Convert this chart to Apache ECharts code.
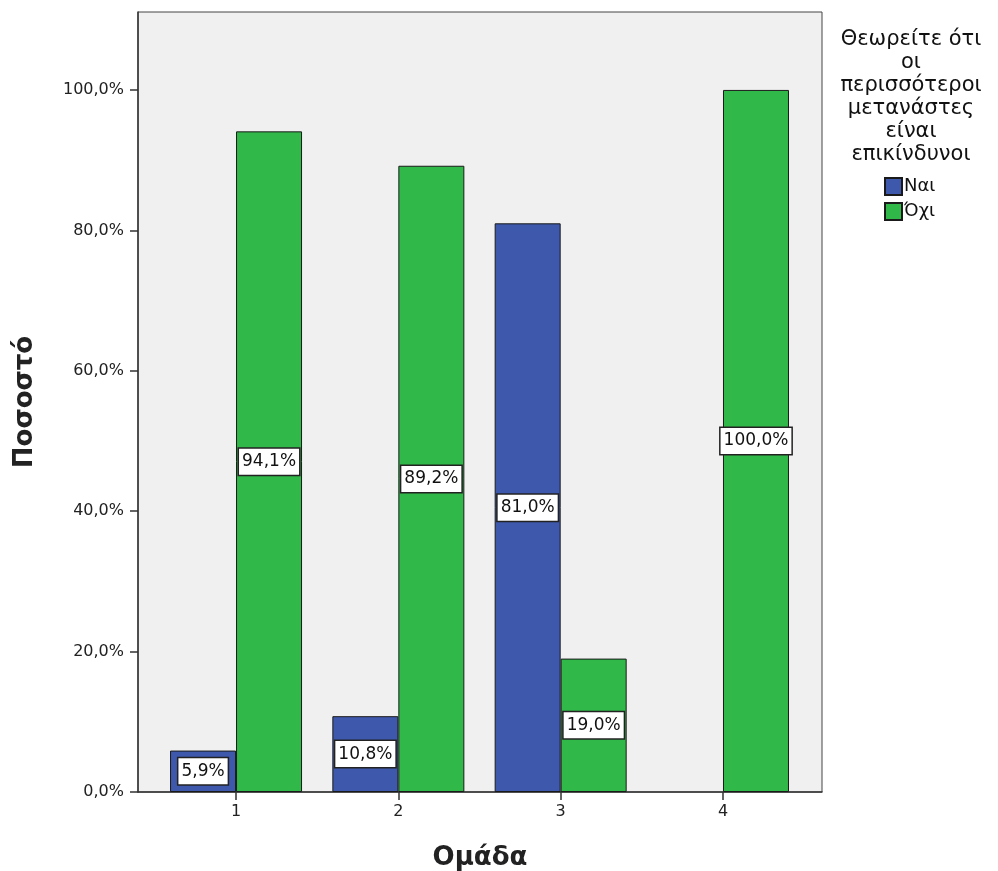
<!DOCTYPE html>
<html>
<head>
<meta charset="utf-8">
<style>
  html, body { margin: 0; padding: 0; background: #fff; }
  #chart { width: 998px; height: 871px; }
</style>
<script src="https://cdn.jsdelivr.net/npm/echarts@6/dist/echarts.min.js"></script>
</head>
<body>
<div id="chart"></div>
<script>
// ομάδες (θέσεις στον άξονα x)
const groups = [1, 2, 3, 4]
const yesValues = [5.9, 10.8, 81.0, null]
const noValues = [94.1, 89.2, 19.0, 100.0]
const yTicks = [0, 20, 40, 60, 80, 100]

const legendTitle = 'Θεωρείτε ότι\nοι\nπερισσότεροι\nμετανάστες\nείναι\nεπικίνδυνοι'

const fmt = v => v.toFixed(1).replace('.', ',') + '%'

const toPoints = vals => groups.map((g, i) => (vals[i] == null ? [g, '-'] : [g, vals[i]]))

const chart = echarts.init(document.getElementById('chart'))

const labelStyle = {
  show: true,
  position: 'inside',
  formatter: p => fmt(p.value[1]),
  color: '#111',
  fontSize: 17,
  fontFamily: 'DejaVu Sans',
  backgroundColor: '#fff',
  borderColor: '#222',
  borderWidth: 1.5,
  padding: [5, 3, 4, 3]
}

const option = {
  backgroundColor: '#fff',
  textStyle: { fontFamily: 'DejaVu Sans' },
  title: {
    text: legendTitle,
    left: 911,
    top: 28,
    padding: 0,
    textAlign: 'center',
    textStyle: {
      fontSize: 21,
      fontWeight: 'normal',
      color: '#111',
      lineHeight: 23,
      align: 'center'
    }
  },
  legend: {
    orient: 'vertical',
    left: 884,
    top: 177,
    padding: 0,
    itemWidth: 17,
    itemHeight: 17,
    itemGap: 6,
    icon: 'rect',
    textStyle: { fontSize: 18, color: '#111', padding: [0, 0, 0, -3] },
    data: ['Ναι', 'Όχι']
  },
  grid: {
    left: 138,
    top: 12,
    width: 684,
    height: 780,
    outerBoundsMode: 'none',
    show: true,
    backgroundColor: '#f0f0f0',
    borderColor: '#444',
    borderWidth: 1
  },
  xAxis: {
    type: 'value',
    min: 0.396,
    max: 4.61,
    name: 'Ομάδα',
    nameLocation: 'middle',
    nameGap: 53,
    nameTextStyle: { fontSize: 26, fontWeight: 'bold', color: '#222' },
    axisLine: { show: true, lineStyle: { color: '#333', width: 1.5 } },
    axisTick: {
      show: true,
      length: 8,
      customValues: groups,
      lineStyle: { color: '#333', width: 1.5 }
    },
    axisLabel: {
      customValues: groups,
      fontSize: 16,
      color: '#222',
      margin: 12
    },
    splitLine: { show: false }
  },
  yAxis: {
    type: 'value',
    min: 0,
    max: 111.1,
    name: 'Ποσοστό',
    nameLocation: 'middle',
    nameGap: 100,
    nameTextStyle: { fontSize: 26, fontWeight: 'bold', color: '#222' },
    axisLine: { show: true, lineStyle: { color: '#333', width: 1.5 } },
    axisTick: {
      show: true,
      length: 8,
      customValues: yTicks,
      lineStyle: { color: '#333', width: 1.5 }
    },
    axisLabel: {
      customValues: yTicks,
      formatter: v => fmt(v),
      fontSize: 16,
      color: '#222',
      margin: 14
    },
    splitLine: { show: false }
  },
  series: [
    {
      name: 'Ναι',
      type: 'bar',
      barWidth: 66,
      barGap: '0%',
      data: toPoints(yesValues),
      itemStyle: { color: '#3e58ac', borderColor: '#1a1a1a', borderWidth: 1 },
      label: labelStyle
    },
    {
      name: 'Όχι',
      type: 'bar',
      barWidth: 66,
      barGap: '0%',
      data: toPoints(noValues),
      itemStyle: { color: '#30b848', borderColor: '#1a1a1a', borderWidth: 1 },
      label: labelStyle
    }
  ]
}

chart.setOption(option)
</script>
</body>
</html>
